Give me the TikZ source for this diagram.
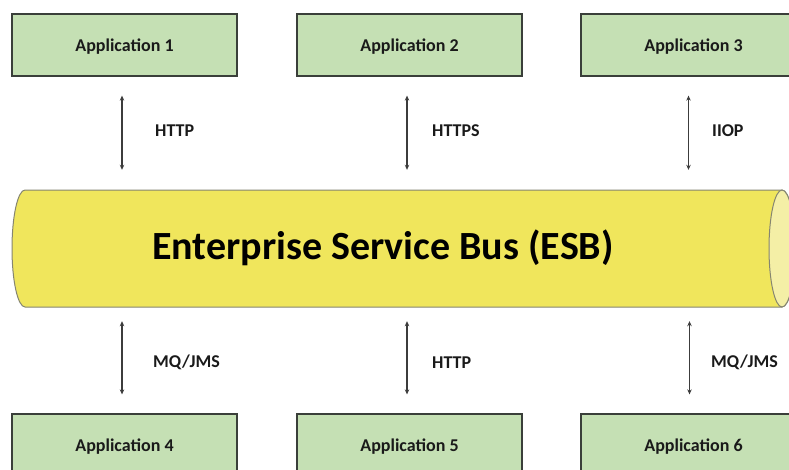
\documentclass[tikz,border=0pt]{standalone}
\usepackage{fontspec}
\setmainfont{Carlito}
\usetikzlibrary{arrows.meta}
\definecolor{appgreen}{HTML}{C5E0B4}
\definecolor{appborder}{HTML}{3A3F3A}
\definecolor{busyellow}{HTML}{F0E65C}
\definecolor{buscap}{HTML}{F4EFA6}
\definecolor{busline}{HTML}{858570}
\definecolor{arrgray}{HTML}{3C3C3C}
\definecolor{txt}{HTML}{1A1A1A}
\begin{document}
\begin{tikzpicture}[x=1pt,y=-1pt,
  appbox/.style={draw=appborder, line width=1.3pt, fill=appgreen, minimum width=225pt, minimum height=62pt, inner sep=0pt, text=txt, text height=12pt, text depth=0pt, font=\bfseries\fontsize{18}{20}\selectfont},
  proto/.style={anchor=west, inner sep=0pt, text=txt, font=\bfseries\fontsize{18}{20}\selectfont},
  arr/.style={draw=arrgray, line width=1.2pt, {Stealth[length=5pt,width=4.5pt]}-{Stealth[length=5pt,width=4.5pt]}}]
\useasboundingbox (0,0) rectangle (789,469);
\clip (0,0) rectangle (789,469);
\fill[white] (0,0) rectangle (789,469);
% bus cylinder
\filldraw[fill=busyellow, draw=busline, line width=1pt]
  (25,190) -- (782,190) arc[start angle=-90, end angle=90, x radius=13, y radius=58.5]
  -- (25,307) arc[start angle=90, end angle=270, x radius=13, y radius=58.5] -- cycle;
\filldraw[fill=buscap, draw=busline, line width=1pt] (782,248.5) ellipse [x radius=13, y radius=58.5];
\node[minimum width=770pt, minimum height=117pt, inner sep=0pt] (bus) at (397.5,248.5) {};
\node[text=black, font=\bfseries\fontsize{40}{44}\selectfont, inner sep=0pt] (title) at (383,247.5) {Enterprise Service Bus (ESB)};
% applications
\node[appbox] (a1) at (124.5,45) {Application 1};
\node[appbox] (a2) at (409.5,45) {Application 2};
\node[appbox] (a3) at (693.5,45) {Application 3};
\node[appbox] (a4) at (124.5,445) {Application 4};
\node[appbox] (a5) at (409.5,445) {Application 5};
\node[appbox] (a6) at (693.5,445) {Application 6};
% connectors
\draw[arr, shorten <=19pt, shorten >=20pt] ([xshift=-2.5pt]a1.south) -- ([xshift=-2.5pt]a1.south |- bus.north);
\draw[arr, shorten <=19pt, shorten >=20pt] ([xshift=-2.5pt]a2.south) -- ([xshift=-2.5pt]a2.south |- bus.north);
\draw[arr, shorten <=19pt, shorten >=20pt] ([xshift=-5pt]a3.south) -- ([xshift=-5pt]a3.south |- bus.north);
\draw[arr, shorten <=14pt, shorten >=19pt] ([xshift=-2.5pt]a4.north |- bus.south) -- ([xshift=-2.5pt]a4.north);
\draw[arr, shorten <=14pt, shorten >=19pt] ([xshift=-2.5pt]a5.north |- bus.south) -- ([xshift=-2.5pt]a5.north);
\draw[arr, shorten <=14pt, shorten >=19pt] ([xshift=-4pt]a6.north |- bus.south) -- ([xshift=-4pt]a6.north);
% protocol labels
\node[proto] (p1) at (155,130.5) {HTTP};
\node[proto] (p2) at (432,130.5) {HTTPS};
\node[proto] (p3) at (712,130.5) {IIOP};
\node[proto] (p4) at (153,362.5) {MQ/JMS};
\node[proto] (p5) at (432,362.5) {HTTP};
\node[proto] (p6) at (711,362.5) {MQ/JMS};
\end{tikzpicture}
\end{document}
